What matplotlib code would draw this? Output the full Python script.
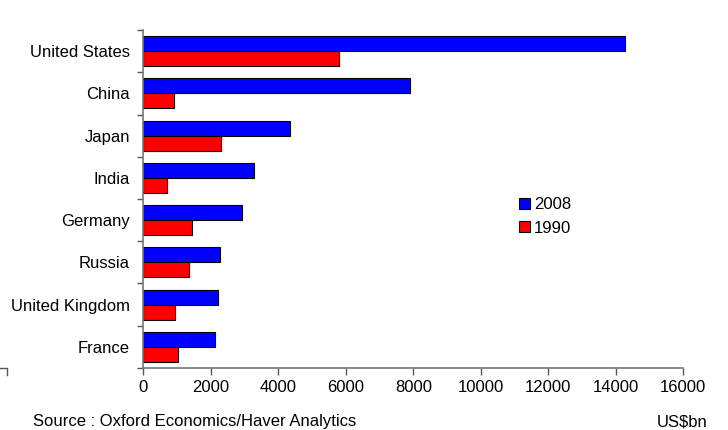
import numpy as np
import matplotlib.pyplot as plt
from matplotlib.lines import Line2D

plt.rcParams['font.family'] = ['Liberation Sans', 'DejaVu Sans']

countries = ['United States', 'China', 'Japan', 'India', 'Germany', 'Russia',
             'United Kingdom', 'France']
gdp_2008 = [14270, 7910, 4350, 3290, 2920, 2260, 2220, 2120]
gdp_1990 = [5800, 910, 2300, 710, 1430, 1350, 950, 1020]

fig = plt.figure(figsize=(7.28, 4.3), dpi=100)
ax = fig.add_axes([0.1968, 0.1442, 0.7418, 0.786])

y = np.arange(len(countries))
h = 0.355
ax.barh(y - h / 2, gdp_2008, height=h, color='#0000ff', edgecolor='black',
        linewidth=0.8, label='2008')
ax.barh(y + h / 2, gdp_1990, height=h, color='#ff0000', edgecolor='black',
        linewidth=0.8, label='1990')

ax.set_xlim(0, 16000)
ax.set_ylim(len(countries) - 0.5, -0.5)
ax.set_xticks(np.arange(0, 16001, 2000))
ax.set_yticks(y)
ax.set_yticklabels(countries, fontsize=12)
ax.set_yticks(np.arange(-0.5, len(countries)), minor=True)
ax.tick_params(axis='y', which='major', length=0, pad=9.5)
ax.tick_params(axis='y', which='minor', length=4, width=1, color='#555555')
ax.tick_params(axis='x', labelsize=12, length=5, width=1, color='#555555', pad=4)

for s in ['top', 'right']:
    ax.spines[s].set_visible(False)
for s in ['left', 'bottom']:
    ax.spines[s].set_color('#777777')
    ax.spines[s].set_linewidth(1.2)

ax.legend(loc='upper left', bbox_to_anchor=(0.695, 0.505), frameon=False,
          fontsize=12, handlelength=0.66, handleheight=0.66, handletextpad=0.25,
          labelspacing=0.5, borderpad=0, borderaxespad=0)

fig.text(0.046, 0.0093, 'Source : Oxford Economics/Haver Analytics', fontsize=12,
         va='baseline')
fig.text(0.972, 0.0093, 'US$bn', fontsize=12, ha='right', va='baseline')

# small corner mark at the lower left
fig.add_artist(Line2D([0.0, 0.0096, 0.0096], [0.1442, 0.1442, 0.128],
                      color='#555555', linewidth=1))

fig.savefig('out.png', dpi=100)
